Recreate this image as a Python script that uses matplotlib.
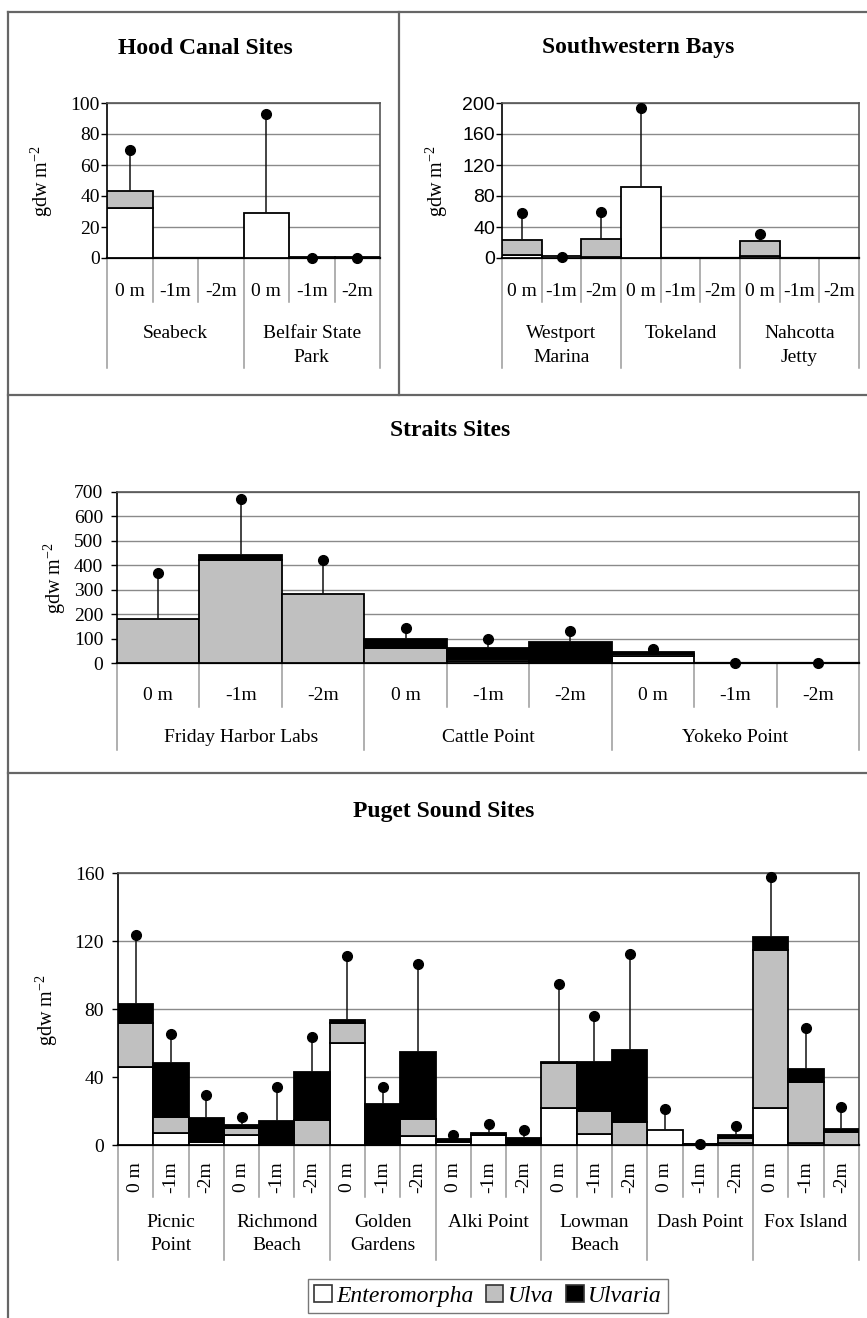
import numpy as np
import matplotlib
matplotlib.use('Agg')
import matplotlib.pyplot as plt
from matplotlib.lines import Line2D
from matplotlib.patches import Patch
from matplotlib.transforms import blended_transform_factory

plt.rcParams['font.family'] = ['Liberation Serif', 'DejaVu Serif']
plt.rcParams['mathtext.fontset'] = 'stix'

nan = np.nan
tiers = ['0 m', '-1m', '-2m']
species = ['Enteromorpha', 'Ulva', 'Ulvaria']

### Hood Canal
hood_sites = ['Seabeck', 'Belfair State\nPark']
hood_ent = [32, 0, 0, 29, 0.7, 0.7]
hood_ulva = [11, 0, 0, 0, 0, 0]
hood_ulvaria = [0, 0, 0, 0, 0, 0]
hood_dot = [70, nan, nan, 93, 0, 0]

### Southwestern Bays
sw_sites = ['Westport\nMarina', 'Tokeland', 'Nahcotta\nJetty']
sw_ent = [4, 2.5, 1, 91, 0, 0, 2.5, 0, 0]
sw_ulva = [19, 0, 24, 0, 0, 0, 20, 0, 0]
sw_ulvaria = [0, 0, 0, 0, 0, 0, 0, 0, 0]
sw_dot = [58, 1.5, 60, 193, nan, nan, 31, nan, nan]

### Straits
st_sites = ['Friday Harbor Labs', 'Cattle Point', 'Yokeko Point']
st_ent = [0, 0, 0, 0, 9, 0, 27, 0, 0]
st_ulva = [180, 420, 282, 62, 9, 2, 11, 0, 0]
st_ulvaria = [0, 22, 0, 38, 43, 83, 7, 0, 0]
st_dot = [367, 672, 423, 144, 100, 130, 59, 0, 0]

### Puget Sound
pg_sites = ['Picnic\nPoint', 'Richmond\nBeach', 'Golden\nGardens', 'Alki Point',
            'Lowman\nBeach', 'Dash Point', 'Fox Island']
pg_ent = [46, 7, 1.5, 6, 0.5, 0, 60, 0.5, 5.5, 1.5, 6, 0, 21.5, 6.5, 0, 8.8, 0.3, 1, 22, 1.2, 0]
pg_ulva = [25.7, 9.5, 0.5, 4, 0, 15, 11.5, 0.5, 10, 0, 0, 0, 26.5, 13.7, 13.7, 0, 0, 3.3, 93, 35.7, 7.5]
pg_ulvaria = [11.3, 31.5, 13.7, 2, 13.6, 27.8, 2, 23, 39.5, 2, 1, 3.9, 1, 28.8, 41.9, 0, 0.3, 1.4, 7.5, 7.7, 1.7]
pg_dot = [123.7, 65.4, 29.4, 16.7, 34.4, 63.8, 110.9, 34.4, 106.6, 5.9, 12.4, 8.8,
          94.8, 76, 112.5, 21.4, 0.6, 11.2, 157.6, 69.1, 22.2]

colors = ['white', '#c0c0c0', 'black']
ylab = 'gdw m$^{\\mathregular{-2}}$'

W, H = 867, 1318
fig = plt.figure(figsize=(W/100, H/100), dpi=100)

def fx(x):
    return x / W

def fy(y):
    return 1 - y / H

def add_ax(l, t, r, b):
    return fig.add_axes([fx(l), fy(b), (r-l)/W, (b-t)/H])

def panel(ax, bottom_px, sites, ent, ulva, ulvaria, dot, ymax, ystep,
          tier_dy, tier_sep, site_dy, site_sep, rotate_tiers=False, tick_font=None, tick_pad=2):
    n = len(ent)
    x = np.arange(n)
    base = np.zeros(n)
    for vals, c in zip([ent, ulva, ulvaria], colors):
        vals = np.array(vals, dtype=float)
        m = vals > 0
        ax.bar(x[m], vals[m], bottom=base[m], width=1.0, color=c,
               edgecolor='black', linewidth=1.3, zorder=3)
        base = base + vals
    dot = np.array(dot, dtype=float)
    ok = ~np.isnan(dot)
    ax.vlines(x[ok], base[ok], dot[ok], color='#111', linewidth=1.1, zorder=4)
    ax.plot(x[ok], dot[ok], 'o', color='black', markersize=7, zorder=5, clip_on=False)

    ax.set_xlim(-0.5, n - 0.5)
    ax.set_ylim(0, ymax)
    ax.set_yticks(np.arange(0, ymax + 1, ystep))
    ax.set_xticks([])
    ax.yaxis.grid(True, color='#8a8a8a', linewidth=1.0)
    ax.set_axisbelow(True)
    ax.tick_params(axis='y', length=4, width=1, pad=tick_pad, labelsize=14)
    if tick_font is not None:
        for lab in ax.get_yticklabels():
            lab.set_family(tick_font)
    for s in ['top', 'right']:
        ax.spines[s].set_color('#555555')
        ax.spines[s].set_linewidth(1.2)
    ax.spines['left'].set_linewidth(1.2)
    ax.spines['bottom'].set_linewidth(1.6)

    tr = blended_transform_factory(ax.transData, fig.transFigure)
    # category separators: short between depths, long between sites
    for i in range(n + 1):
        xs = i - 0.5
        depth = site_sep if i % 3 == 0 else tier_sep
        ax.add_line(Line2D([xs, xs], [fy(bottom_px), fy(bottom_px + depth)], transform=tr,
                           color='#9a9a9a', linewidth=1.1, clip_on=False))
    for i in range(n):
        ax.text(i, fy(bottom_px + tier_dy), tiers[i % 3], transform=tr,
                rotation=90 if rotate_tiers else 0,
                ha='center', va='center', fontsize=14)
    for k, s in enumerate(sites):
        ax.text(3 * k + 1, fy(bottom_px + site_dy), s, transform=tr, ha='center', va='top',
                fontsize=14, linespacing=1.5)

# Hood Canal
ax1 = add_ax(107, 103, 380, 258)
panel(ax1, 258, hood_sites, hood_ent, hood_ulva, hood_ulvaria, hood_dot, 100, 20,
      33, 44, 67, 110, tick_pad=1)
fig.text(fx(205), fy(48), 'Hood Canal Sites', ha='center', va='center', fontsize=17, fontweight='bold')
fig.text(fx(42), fy(181), ylab, rotation=90, ha='center', va='center', fontsize=14.5)

# Southwestern Bays
ax2 = add_ax(502, 103, 859, 258)
panel(ax2, 258, sw_sites, sw_ent, sw_ulva, sw_ulvaria, sw_dot, 200, 40,
      33, 44, 67, 110, tick_font='Liberation Sans', tick_pad=1)
fig.text(fx(638), fy(48), 'Southwestern Bays', ha='center', va='center', fontsize=17, fontweight='bold')
fig.text(fx(437), fy(181), ylab, rotation=90, ha='center', va='center', fontsize=14.5)

# Straits
ax3 = add_ax(117, 492, 859, 663)
panel(ax3, 663, st_sites, st_ent, st_ulva, st_ulvaria, st_dot, 700, 100,
      33, 44, 66, 87, tick_pad=6)
fig.text(fx(450), fy(430), 'Straits Sites', ha='center', va='center', fontsize=17, fontweight='bold')
fig.text(fx(55), fy(578), ylab, rotation=90, ha='center', va='center', fontsize=14.5)

# Puget Sound
ax4 = add_ax(118, 873, 859, 1145)
panel(ax4, 1145, pg_sites, pg_ent, pg_ulva, pg_ulvaria, pg_dot, 160, 40,
      32, 52, 69, 115, rotate_tiers=True, tick_pad=6)
fig.text(fx(444), fy(812), 'Puget Sound Sites', ha='center', va='center', fontsize=17, fontweight='bold')
fig.text(fx(47), fy(1010), ylab, rotation=90, ha='center', va='center', fontsize=14.5)

handles = [Patch(facecolor=c, edgecolor='#333', linewidth=1.2) for c in colors]
leg = fig.legend(handles, species, loc='center', bbox_to_anchor=(fx(488), fy(1296)), ncol=3,
                 frameon=True, fancybox=False, edgecolor='#555', handlelength=0.75, handleheight=0.75,
                 handletextpad=0.2, columnspacing=0.5, borderpad=0.25, borderaxespad=0,
                 prop={'family': 'Liberation Serif', 'style': 'italic', 'size': 17})
leg.get_frame().set_linewidth(1.0)

# panel frame lines
fc = '#666666'
for (x0, y0, x1, y1) in [(8, 12, 8, H), (8, 12, W, 12), (8, 395, W, 395), (8, 773, W, 773), (399, 12, 399, 395)]:
    fig.add_artist(Line2D([fx(x0), fx(x1)], [fy(y0), fy(y1)], color=fc, linewidth=1.6))

fig.savefig('out.png', dpi=100)
